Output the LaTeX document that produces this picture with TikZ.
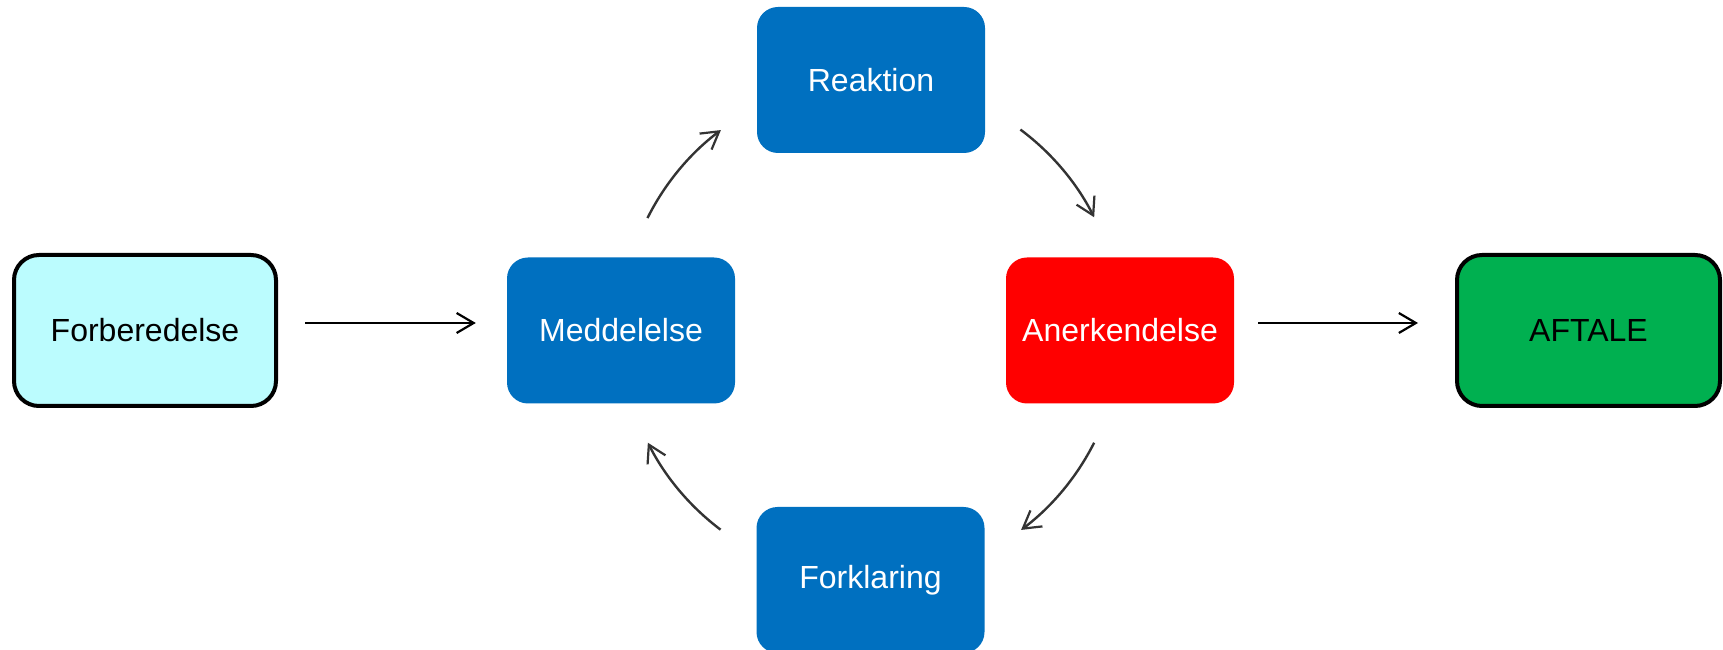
\documentclass[tikz,border=0pt]{standalone}
\usepackage{fontspec}
\setmainfont{Liberation Sans}
\usetikzlibrary{arrows.meta,calc}
\definecolor{boxblue}{HTML}{0070C0}
\definecolor{boxred}{HTML}{FF0000}
\definecolor{boxgreen}{HTML}{00B050}
\definecolor{boxcyan}{HTML}{BBFCFE}
\definecolor{arrgray}{HTML}{333333}
\tikzset{
  lbl/.style={font=\fontsize{32}{38}\selectfont},
  bluebox/.style={lbl, rectangle, rounded corners=21pt, fill=boxblue, text=white,
    minimum width=228pt, minimum height=146pt, inner sep=0pt, draw=none},
  redbox/.style={bluebox, fill=boxred},
  endbox/.style={lbl, rectangle, rounded corners=25pt, draw=black, line width=4pt,
    text=black, minimum width=262pt, minimum height=151pt, inner sep=0pt},
  straightarr/.style={draw=black, line width=2.2pt, -{Straight Barb[length=17pt,width=20pt,line width=2.2pt]}},
  curvearr/.style={draw=arrgray, line width=2.4pt, -{Straight Barb[length=17pt,width=20pt,line width=2.2pt]}},
}
\begin{document}
\begin{tikzpicture}[x=1pt,y=1pt]
\fill[white] (0,0) rectangle (1723,650);
\useasboundingbox (0,0) rectangle (1723,650);

\node[endbox, fill=boxcyan] (F) at (145,319.5) {Forberedelse};
\node[bluebox] (M) at (621,319.5) {Meddelelse};
\node[bluebox] (R) at (871,570) {Reaktion};
\node[redbox] (A) at (1120,319.5) {Anerkendelse};
\node[bluebox] (K) at (870.5,70) {Forklaring};
\node[endbox, fill=boxgreen, minimum width=263pt] (E) at (1588.5,319.5) {AFTALE};

\coordinate (C) at (871,320);
\coordinate (mr) at ($(C)+(153.4:250)$);
\coordinate (ra) at ($(C)+(53.3:250)$);
\coordinate (ak) at ($(C)+(-26.8:250)$);
\coordinate (km) at ($(C)+(-127:250)$);

\draw[straightarr, shorten <=27pt, shorten >=31pt] ([yshift=7.5pt]F.east) -- ([yshift=7.5pt]M.west);
\draw[straightarr, shorten <=24pt, shorten >=37pt] ([yshift=7.5pt]A.east) -- ([yshift=7.5pt]E.west);

\draw[curvearr] (mr) arc[start angle=153.4, end angle=126.9, radius=250];
\draw[curvearr] (ra) arc[start angle=53.3, end angle=26.8, radius=250];
\draw[curvearr] (ak) arc[start angle=-26.8, end angle=-53.1, radius=250];
\draw[curvearr] (km) arc[start angle=-127, end angle=-153.2, radius=250];
\end{tikzpicture}
\end{document}
